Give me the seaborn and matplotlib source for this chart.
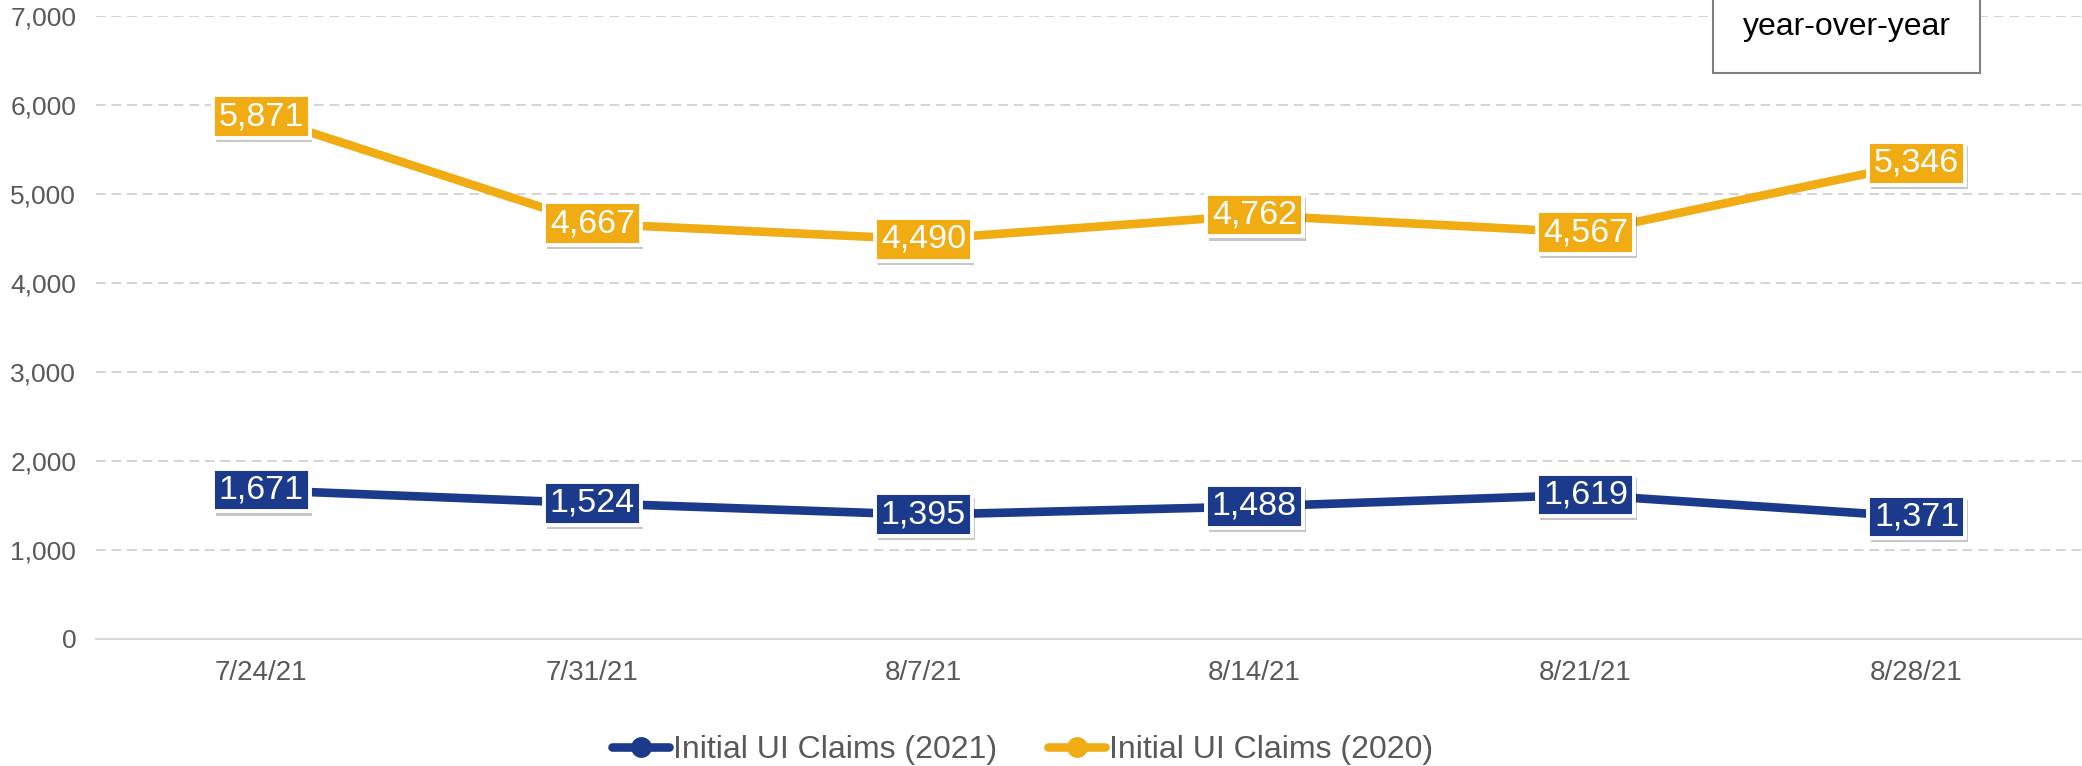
"""
Weekly initial UI claims, 2021 vs 2020, as a labelled line chart.
"""

import pandas as pd
import matplotlib
matplotlib.use("Agg")
import matplotlib.pyplot as plt
import matplotlib.patheffects as pe
from matplotlib.patches import Rectangle
from matplotlib.ticker import FuncFormatter, FixedLocator
import seaborn as sns

# Data
weeks = ['7/24/21', '7/31/21', '8/7/21', '8/14/21', '8/21/21', '8/28/21']
claims_2021 = [1671, 1524, 1395, 1488, 1619, 1371]
claims_2020 = [5871, 4667, 4490, 4762, 4567, 5346]
series_names = ['Initial UI Claims (2021)', 'Initial UI Claims (2020)']
y_ticks = [0, 1000, 2000, 3000, 4000, 5000, 6000, 7000]

NAVY = '#1c3a8c'
GOLD = '#f0ac12'
TEXT_GRAY = '#595959'


def build_frame():
    """Long-form frame for seaborn."""
    rows = []
    for name, values in zip(series_names, [claims_2021, claims_2020]):
        for week, val in zip(weeks, values):
            rows.append({'week': week, 'claims': val, 'series': name})
    return pd.DataFrame(rows)


def add_value_labels(ax, values, color):
    """Boxed value labels centered on each point."""
    for i, val in enumerate(values):
        t = ax.text(i, val, f'{val:,}', ha='center', va='center',
                    fontsize=24.5, color='white', zorder=6,
                    bbox=dict(boxstyle='square,pad=0.17', facecolor=color,
                              edgecolor='white', linewidth=2.8))
        t.get_bbox_patch().set_path_effects([
            pe.withSimplePatchShadow(offset=(2, -3), shadow_rgbFace='#000000', alpha=0.22),
        ])


def main():
    sns.set_theme(style='white')
    plt.rcParams['font.family'] = ['Liberation Sans', 'DejaVu Sans']

    df = build_frame()

    fig = plt.figure(figsize=(20.82, 7.66), dpi=100)
    ax = fig.add_axes([0.046, 0.166, 0.954, 0.813])

    sns.lineplot(data=df, x='week', y='claims', hue='series',
                 palette=[NAVY, GOLD], linewidth=6.2, marker='o',
                 markersize=15, markeredgewidth=0, sort=False, ax=ax)

    add_value_labels(ax, claims_2021, NAVY)
    add_value_labels(ax, claims_2020, GOLD)

    # axes styling
    ax.set_xlim(-0.5, len(weeks) - 0.5)
    ax.set_ylim(0, 7000)
    ax.set_yticks(y_ticks)
    ax.yaxis.set_major_formatter(FuncFormatter(lambda v, _: f'{int(v):,}'))
    ax.grid(axis='y', color='#d4d4d4', linestyle=(0, (5, 3)), linewidth=1.4)
    ax.set_axisbelow(True)
    ax.set_xlabel('')
    ax.set_ylabel('')

    for side in ['left', 'right', 'top']:
        ax.spines[side].set_visible(False)
    ax.spines['bottom'].set_color('#d9d9d9')
    ax.spines['bottom'].set_linewidth(1.5)

    ax.xaxis.set_minor_locator(FixedLocator([i - 0.5 for i in range(len(weeks) + 1)]))
    ax.tick_params(axis='x', which='major', length=0, pad=15, labelsize=20, labelcolor=TEXT_GRAY)
    ax.tick_params(axis='x', which='minor', direction='in', length=8, width=1.5, color='#d9d9d9')
    ax.tick_params(axis='y', length=0, pad=14, labelsize=19, labelcolor=TEXT_GRAY)

    # legend below the plot
    handles, labels = ax.get_legend_handles_labels()
    ax.legend(handles, labels, loc='center', bbox_to_anchor=(0.491, 0.021),
              bbox_transform=fig.transFigure, ncol=2, frameon=False,
              fontsize=23, labelcolor=TEXT_GRAY, handlelength=1.8,
              handletextpad=0.1, columnspacing=1.6)

    # note box cut off at the top right
    fig.patches.append(Rectangle((0.823, 0.905), 0.128, 0.2, transform=fig.transFigure,
                                 facecolor='white', edgecolor='#808080', linewidth=1.5,
                                 zorder=10, clip_on=False))
    fig.text(0.887, 0.965, 'year-over-year', ha='center', va='center',
             fontsize=23, color='black', zorder=11)

    fig.savefig('out.png', dpi=100)
    plt.close(fig)


if __name__ == "__main__":
    main()
